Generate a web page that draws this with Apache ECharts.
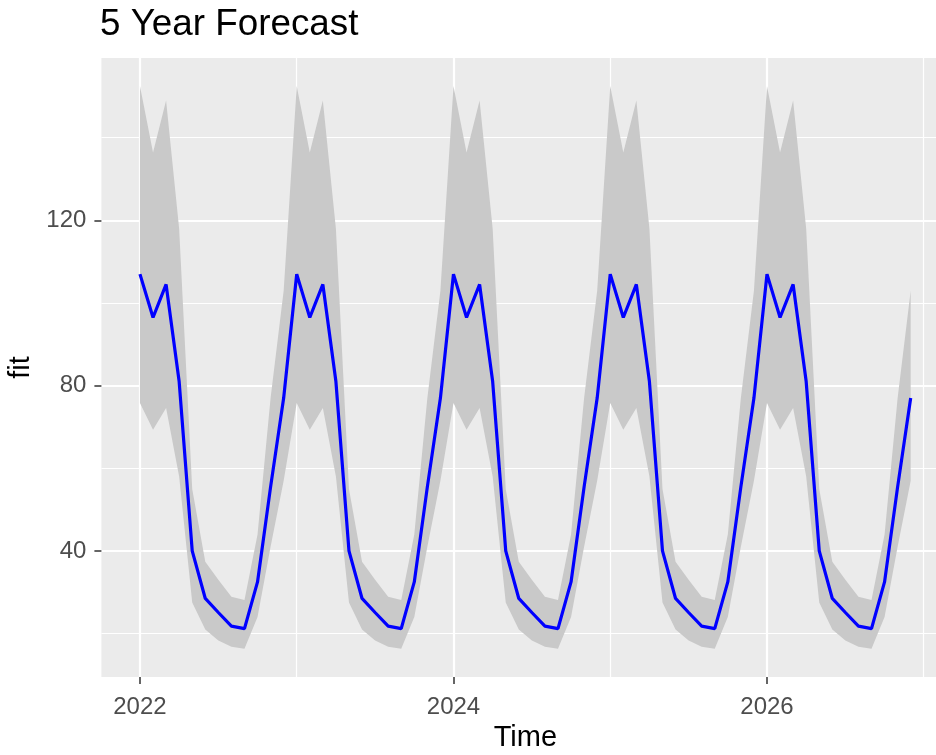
<!DOCTYPE html>
<html>
<head>
<meta charset="utf-8">
<script src="https://cdn.jsdelivr.net/npm/echarts@6/dist/echarts.min.js"></script>
<style>
html, body { margin: 0; padding: 0; background: #ffffff; }
#chart { width: 936px; height: 755px; }
</style>
</head>
<body>
<div id="chart"></div>
<script>
// Monthly forecast starting January 2022
const startYear = 2022;

const fit = [
  107, 96.5, 104.5, 81, 40, 28.5, 25.1, 21.8, 21.2, 32.5, 55.5, 77,
  107, 96.5, 104.5, 81, 40, 28.5, 25.1, 21.8, 21.2, 32.5, 55.5, 77,
  107, 96.5, 104.5, 81, 40, 28.5, 25.1, 21.8, 21.2, 32.5, 55.5, 77,
  107, 96.5, 104.5, 81, 40, 28.5, 25.1, 21.8, 21.2, 32.5, 55.5, 77,
  107, 96.5, 104.5, 81, 40, 28.5, 25.1, 21.8, 21.2, 32.5, 55.5, 77
];
const upper = [
  152.5, 136.4, 149, 118, 55, 37.4, 33, 28.9, 28.1, 44, 77, 103,
  152.5, 136.4, 149, 118, 55, 37.4, 33, 28.9, 28.1, 44, 77, 103,
  152.5, 136.4, 149, 118, 55, 37.4, 33, 28.9, 28.1, 44, 77, 103,
  152.5, 136.4, 149, 118, 55, 37.4, 33, 28.9, 28.1, 44, 77, 103,
  152.5, 136.4, 149, 118, 55, 37.4, 33, 28.9, 28.1, 44, 77, 103
];
const lower = [
  75.8, 69.3, 74.6, 58, 27.5, 21, 18.3, 16.8, 16.3, 24, 41, 57,
  75.8, 69.3, 74.6, 58, 27.5, 21, 18.3, 16.8, 16.3, 24, 41, 57,
  75.8, 69.3, 74.6, 58, 27.5, 21, 18.3, 16.8, 16.3, 24, 41, 57,
  75.8, 69.3, 74.6, 58, 27.5, 21, 18.3, 16.8, 16.3, 24, 41, 57,
  75.8, 69.3, 74.6, 58, 27.5, 21, 18.3, 16.8, 16.3, 24, 41, 57
];

const xMajorTicks = [2022, 2024, 2026];
const xMinorTicks = [2023, 2025, 2027];
const yMajorTicks = [40, 80, 120];
const yMinorTicks = [20, 60, 100, 140];

const time = fit.map((_, i) => startYear + i / 12);

const FONT = "'Liberation Sans', Arial, sans-serif";
const X_MIN = 2021.754, X_MAX = 2027.163;
const Y_MIN = 9.49, Y_MAX = 159.3;

const chart = echarts.init(document.getElementById('chart'), null, { renderer: 'canvas' });

const bandData = time.map((t, i) => [t, lower[i], upper[i]]);
const fitData = time.map((t, i) => [t, fit[i]]);

const option = {
  animation: false,
  backgroundColor: '#ffffff',
  title: {
    text: '5 Year Forecast',
    left: 100,
    top: 6,
    padding: 0,
    textStyle: { fontFamily: FONT, fontSize: 36.8, fontWeight: 'normal', color: '#000000' }
  },
  grid: {
    left: 101.4,
    width: 847.9,
    top: 58,
    height: 619,
    show: true,
    backgroundColor: '#EBEBEB',
    borderWidth: 0,
    outerBoundsMode: 'none'
  },
  xAxis: [
    {
      type: 'value',
      min: X_MIN,
      max: X_MAX,
      position: 'bottom',
      name: 'Time',
      nameLocation: 'middle',
      nameGap: 46,
      nameTextStyle: { fontFamily: FONT, fontSize: 29, color: '#000000' },
      axisLine: { show: false },
      axisTick: { show: true, length: 7, customValues: xMajorTicks, lineStyle: { color: '#333333', width: 1.5 } },
      axisLabel: { customValues: xMajorTicks, margin: 18, fontFamily: FONT, fontSize: 24, color: '#4D4D4D',
        formatter: v => String(Math.round(v)) },
      splitLine: { show: true, lineStyle: { color: '#FFFFFF', width: 2.2 } }
    },
    {
      type: 'value',
      min: X_MIN,
      max: X_MAX,
      position: 'top',
      axisLine: { show: false },
      axisTick: { show: false, customValues: xMinorTicks },
      axisLabel: { show: false, customValues: xMinorTicks },
      splitLine: { show: true, lineStyle: { color: '#FFFFFF', width: 1.2 } }
    }
  ],
  yAxis: [
    {
      type: 'value',
      min: Y_MIN,
      max: Y_MAX,
      position: 'left',
      name: 'fit',
      nameLocation: 'middle',
      nameRotate: 90,
      nameGap: 55,
      nameTextStyle: { fontFamily: FONT, fontSize: 29, color: '#000000' },
      axisLine: { show: false },
      axisTick: { show: true, length: 7, customValues: yMajorTicks, lineStyle: { color: '#333333', width: 1.5 } },
      axisLabel: { customValues: yMajorTicks, margin: 15, fontFamily: FONT, fontSize: 24, color: '#4D4D4D' },
      splitLine: { show: true, lineStyle: { color: '#FFFFFF', width: 2.2 } }
    },
    {
      type: 'value',
      min: Y_MIN,
      max: Y_MAX,
      position: 'right',
      axisLine: { show: false },
      axisTick: { show: false, customValues: yMinorTicks },
      axisLabel: { show: false, customValues: yMinorTicks },
      splitLine: { show: true, lineStyle: { color: '#FFFFFF', width: 1.2 } }
    }
  ],
  series: [
    {
      name: 'interval',
      type: 'custom',
      xAxisIndex: 0,
      yAxisIndex: 0,
      data: bandData,
      encode: { x: 0, y: [1, 2] },
      renderItem: function (params, api) {
        if (params.dataIndex !== 0) return null;
        const pts = [];
        for (let i = 0; i < time.length; i++) pts.push(api.coord([time[i], upper[i]]));
        for (let i = time.length - 1; i >= 0; i--) pts.push(api.coord([time[i], lower[i]]));
        return { type: 'polygon', shape: { points: pts }, style: { fill: '#C9C9C9' } };
      },
      z: 2
    },
    {
      name: 'fit',
      type: 'line',
      xAxisIndex: 0,
      yAxisIndex: 0,
      data: fitData,
      showSymbol: false,
      symbol: 'none',
      lineStyle: { color: '#0000FF', width: 3.2 },
      z: 3
    }
  ]
};

chart.setOption(option);
</script>
</body>
</html>
